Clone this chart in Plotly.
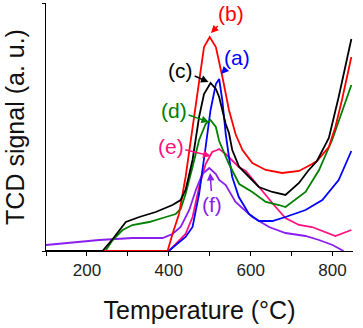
import plotly.graph_objects as go

# Temperature (°C) and TCD signal (a.u.)
T_a = [100, 400, 417, 441, 458, 474, 490, 502, 515, 523, 531, 539, 547, 555, 571, 596, 620, 653, 685, 718, 734, 775, 815, 846]
S_a = [0, 0, 6, 14, 24, 57, 104, 141, 167, 172, 150, 117, 94, 74, 54, 37, 30, 30, 34, 39, 41, 51, 71, 100]

T_b = [100, 397, 409, 425, 441, 458, 474, 486, 500, 515, 531, 547, 563, 580, 604, 637, 677, 718, 750, 762, 791, 807, 823, 846]
S_b = [0, 0, 17, 37, 74, 124, 174, 204, 214, 204, 174, 141, 117, 101, 88, 81, 78, 80, 87, 90, 104, 124, 151, 194]

T_c = [100, 238, 263, 295, 328, 368, 409, 429, 441, 458, 474, 486, 502, 515, 523, 539, 547, 555, 572, 604, 620, 653, 685, 718, 740, 762, 791, 815, 846]
S_c = [0, 0, 12, 29, 34, 39, 46, 51, 61, 91, 134, 157, 168, 162, 154, 127, 118, 101, 84, 71, 64, 59, 56, 68, 80, 90, 113, 154, 212]

T_d = [100, 245, 263, 287, 311, 352, 393, 417, 429, 441, 458, 474, 490, 502, 515, 523, 547, 572, 604, 637, 669, 685, 734, 767, 799, 823, 846]
S_d = [0, 0, 11, 21, 26, 29, 34, 37, 42, 57, 84, 111, 127, 131, 124, 110, 87, 67, 59, 49, 46, 44, 59, 81, 111, 138, 166]

T_e = [100, 400, 417, 441, 458, 474, 490, 506, 518, 523, 539, 555, 571, 588, 620, 661, 685, 718, 750, 791, 807, 846]
S_e = [0, 0, 7, 17, 34, 64, 87, 99, 101, 102, 97, 91, 84, 80, 64, 44, 33, 26, 24, 18, 15, 21]

T_f = [100, 149, 230, 311, 385, 409, 429, 450, 466, 482, 499, 515, 523, 539, 563, 604, 645, 685, 734, 767, 800, 827]
S_f = [6, 8, 11, 13, 13, 17, 24, 41, 61, 77, 83, 77, 71, 66, 49, 34, 24, 18, 15, 11, 6, 0]

labels = ["(a)", "(b)", "(c)", "(d)", "(e)", "(f)"]
colors = ["#0000FF", "#FF0000", "#000000", "#008000", "#FF1080", "#8A1EF0"]

# annotation anchors: (text T, text S, head T, head S)
label_text_T = [567, 551, 429, 413, 405, 506]
label_text_S = [194, 238, 181, 141, 105, 47]
label_head_T = [528, 503, 497, 498, 502, 501]
label_head_S = [177, 218, 169, 129, 95, 78]

series = [(T_a, S_a), (T_b, S_b), (T_c, S_c), (T_d, S_d), (T_e, S_e), (T_f, S_f)]

fig = go.Figure()
# draw order: purple, pink, blue, green, red, black
for i in [5, 4, 0, 3, 1, 2]:
    t, s = series[i]
    fig.add_trace(go.Scatter(x=t, y=s, mode="lines", line=dict(color=colors[i], width=1.8),
                             showlegend=False, hoverinfo="skip"))

for i, lab in enumerate(labels):
    fig.add_annotation(x=label_head_T[i], y=label_head_S[i], xref="x", yref="y",
                       ax=label_text_T[i], ay=label_text_S[i], axref="x", ayref="y",
                       text=lab, showarrow=True, arrowhead=2, arrowsize=1, arrowwidth=1.5,
                       arrowcolor=colors[i], font=dict(color=colors[i], size=21, family="Arial, Liberation Sans"))

tick_vals = [100, 200, 300, 400, 500, 600, 700, 800]
tick_text = ["", "200", "", "400", "", "600", "", "800"]

fig.update_layout(
    width=363, height=328,
    margin=dict(l=46, r=10, t=3, b=77),
    plot_bgcolor="white", paper_bgcolor="white",
    font=dict(family="Arial, Liberation Sans", color="black"),
    xaxis=dict(range=[100, 850], showline=True, linecolor="black", linewidth=1, showgrid=False, zeroline=False,
               automargin=False,
               ticks="outside", ticklen=4, tickcolor="black", tickvals=tick_vals, ticktext=tick_text,
               tickfont=dict(size=17, color="#222"),
               title=dict(text="Temperature (°C)", font=dict(size=25, color="#111"), standoff=22)),
    yaxis=dict(range=[0, 248], showline=True, linecolor="black", linewidth=1, showgrid=False, zeroline=False,
               automargin=False,
               ticks="outside", ticklen=3, tickcolor="black", tickvals=[0, 248], showticklabels=False,
               title=dict(text="TCD signal (a. u.)", font=dict(size=25, color="#111"), standoff=10)),
)

fig.write_html("out.html", config={"displayModeBar": False},
               post_script="document.body.style.margin='0px';")
